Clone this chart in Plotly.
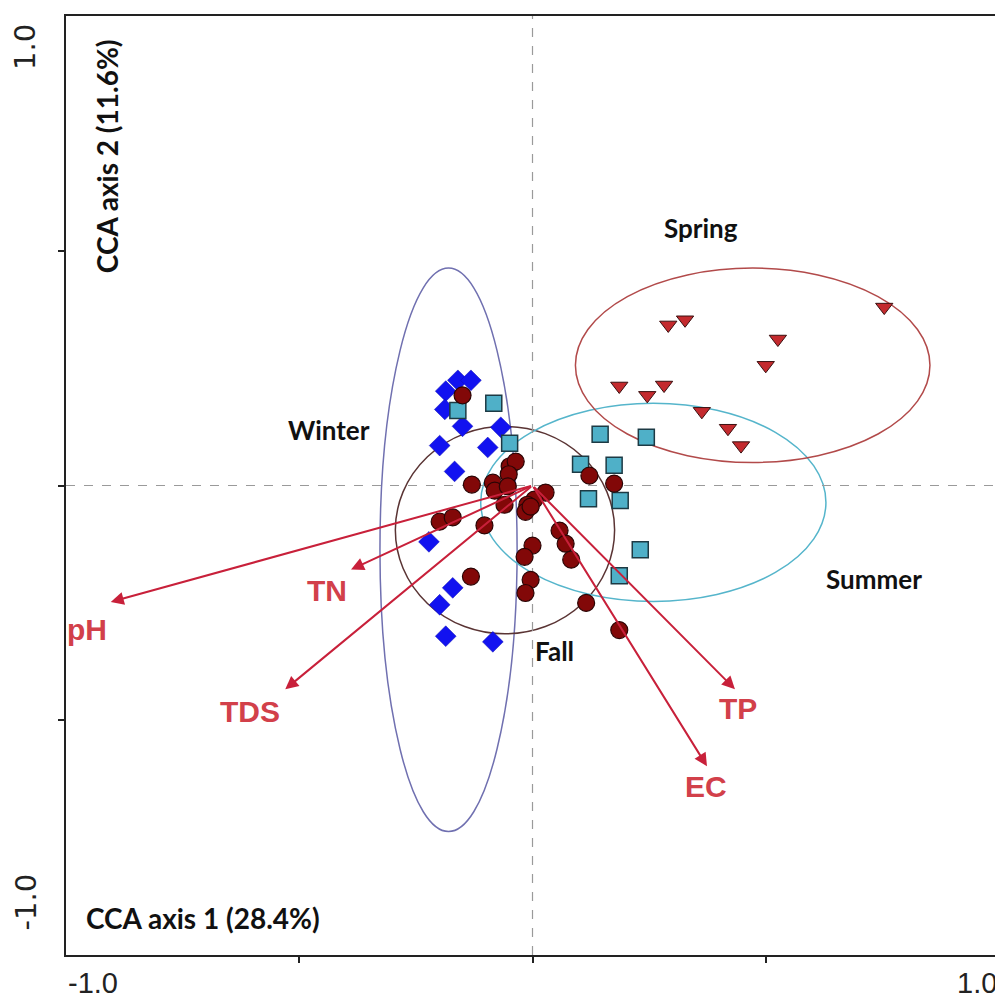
import plotly.graph_objects as go

# ---- data (CCA site scores by season) ----
winter_x = [-0.160, -0.132, -0.186, -0.188, -0.150, -0.068, -0.199, -0.096, -0.167, -0.222, -0.171, -0.199, -0.186, -0.085]
winter_y = [0.224, 0.224, 0.201, 0.162, 0.126, 0.124, 0.085, 0.081, 0.030, -0.120, -0.218, -0.254, -0.321, -0.333]

summer_x = [-0.160, -0.083, -0.049, 0.145, 0.244, 0.103, 0.175, 0.120, 0.188, 0.231, 0.186]
summer_y = [0.160, 0.175, 0.090, 0.109, 0.103, 0.045, 0.043, -0.028, -0.032, -0.137, -0.192]

spring_x = [0.291, 0.327, 0.526, 0.500, 0.754, 0.186, 0.246, 0.282, 0.363, 0.419, 0.447]
spring_y = [0.342, 0.353, 0.312, 0.256, 0.380, 0.212, 0.192, 0.214, 0.158, 0.122, 0.085]

fall_x = [-0.150, -0.049, -0.036, -0.051, -0.130, -0.085, -0.081, -0.053, -0.060, 0.028, 0.004, -0.011, -0.015,
          -0.004, -0.199, -0.171, -0.103, 0.058, 0.071, 0.083, 0.000, -0.017, -0.004, -0.015, -0.132, 0.115,
          0.186, 0.122, 0.175]
fall_y = [0.192, 0.041, 0.051, 0.024, 0.002, 0.006, -0.011, -0.002, -0.041, -0.015, -0.030, -0.041, -0.056,
          -0.045, -0.077, -0.068, -0.085, -0.096, -0.124, -0.158, -0.128, -0.152, -0.201, -0.229, -0.194, -0.250,
          -0.308, 0.021, 0.004]

# environmental vectors
env_names = ["pH", "TN", "TDS", "TP", "EC"]
env_x = [-0.904, -0.389, -0.530, 0.434, 0.374]
env_y = [-0.248, -0.179, -0.434, -0.434, -0.598]
env_label_x = [-0.955, -0.440, -0.605, 0.440, 0.372]
env_label_y = [-0.306, -0.224, -0.481, -0.476, -0.641]

# season ellipses (centre, semi-axes)
season_names = ["Winter", "Fall", "Summer", "Spring"]
ell_cx = [-0.180, -0.059, 0.259, 0.472]
ell_cy = [-0.137, -0.095, -0.036, 0.256]
ell_rx = [0.147, 0.235, 0.370, 0.380]
ell_ry = [0.600, 0.221, 0.211, 0.207]
ell_colors = ["#7070b0", "#5a3434", "#55b5cb", "#b24a4a"]
season_label_x = [-0.436, 0.047, 0.731, 0.361]
season_label_y = [0.118, -0.353, -0.199, 0.549]

# axis info
axis1_title = "CCA axis 1 (28.4%)"
axis2_title = "CCA axis 2 (11.6%)"
tick_vals = [-0.5, 0.0, 0.5]

fig = go.Figure()

# ellipses
for i, name in enumerate(season_names):
    fig.add_shape(type="circle", xref="x", yref="y",
                  x0=ell_cx[i] - ell_rx[i], x1=ell_cx[i] + ell_rx[i],
                  y0=ell_cy[i] - ell_ry[i], y1=ell_cy[i] + ell_ry[i],
                  line=dict(color=ell_colors[i], width=1.5), layer="below")

# dashed zero lines
fig.add_shape(type="line", xref="x", yref="y", x0=0, x1=0, y0=-1, y1=1,
              line=dict(color="#9a9a9a", width=1.2, dash="dash"), layer="below")
fig.add_shape(type="line", xref="x", yref="y", x0=-1, x1=1, y0=0, y1=0,
              line=dict(color="#9a9a9a", width=1.2, dash="dash"), layer="below")

fig.add_trace(go.Scatter(x=winter_x, y=winter_y, mode="markers", name="Winter",
                         marker=dict(symbol="diamond", size=16, color="#1212f0",
                                     line=dict(color="#0c0cb0", width=0.5))))
fig.add_trace(go.Scatter(x=summer_x, y=summer_y, mode="markers", name="Summer",
                         marker=dict(symbol="square", size=16, color="#4fb0c8",
                                     line=dict(color="#1d3a44", width=1.5))))
fig.add_trace(go.Scatter(x=spring_x, y=spring_y, mode="markers", name="Spring",
                         marker=dict(symbol="triangle-down", size=15, color="#c42a2e",
                                     line=dict(color="#3a1010", width=1))))
fig.add_trace(go.Scatter(x=fall_x, y=fall_y, mode="markers", name="Fall",
                         marker=dict(symbol="circle", size=17, color="#820808",
                                     line=dict(color="#2a0505", width=1.2))))

# arrows
for i, name in enumerate(env_names):
    fig.add_annotation(x=env_x[i], y=env_y[i], ax=0, ay=0, xref="x", yref="y",
                       axref="x", ayref="y", text="", showarrow=True,
                       arrowhead=2, arrowsize=1.3, arrowwidth=2, arrowcolor="#c8203a")
    fig.add_annotation(x=env_label_x[i], y=env_label_y[i], xref="x", yref="y",
                       text="<b>%s</b>" % name, showarrow=False,
                       font=dict(family="Liberation Sans, Arial", size=30, color="#d2404a"))

# season labels
for i, name in enumerate(season_names):
    fig.add_annotation(x=season_label_x[i], y=season_label_y[i], xref="x", yref="y",
                       text="<b>%s</b>" % name, showarrow=False,
                       font=dict(family="Lato, Open Sans", size=26, color="#111111"))

# axis titles inside plot
fig.add_annotation(x=-0.962, y=-0.921, xref="x", yref="y", xanchor="left", yanchor="middle",
                   text="<b>%s</b>" % axis1_title, showarrow=False,
                   font=dict(family="Lato, Open Sans", size=28, color="#111111"))
fig.add_annotation(x=-0.912, y=0.955, xref="x", yref="y", xanchor="center", yanchor="top",
                   text="<b>%s</b>" % axis2_title, showarrow=False, textangle=-90,
                   font=dict(family="Lato, Open Sans", size=28, color="#111111"))

# end tick labels
xlab_font = dict(family="Liberation Sans, Arial", size=29, color="#222222")
ylab_font = dict(family="DejaVu Sans", size=29, color="#222222")
fig.add_annotation(x=-1.0, y=0, xref="x", yref="paper", xanchor="left", yanchor="top",
                   yshift=-10, text="-1.0", showarrow=False, font=xlab_font)
fig.add_annotation(x=1.0, y=0, xref="x", yref="paper", xanchor="right", yanchor="top",
                   yshift=-10, text="1.0", showarrow=False, font=xlab_font)
fig.add_annotation(x=0, y=1.0, xref="paper", yref="y", xanchor="right", yanchor="top",
                   xshift=-22, yshift=-6, text="1.0", showarrow=False, textangle=-90, font=ylab_font)
fig.add_annotation(x=0, y=-1.0, xref="paper", yref="y", xanchor="right", yanchor="bottom",
                   xshift=-22, yshift=22, text="-1.0", showarrow=False, textangle=-90, font=ylab_font)

axis_common = dict(range=[-1, 1], showgrid=False, zeroline=False, showline=True,
                   linecolor="#222222", linewidth=2, mirror=True, ticks="outside",
                   ticklen=6, tickwidth=1.5, tickcolor="#222222", tickvals=tick_vals,
                   showticklabels=False)

fig.update_layout(
    width=995, height=998,
    margin=dict(l=58, r=2, t=8, b=51),
    paper_bgcolor="white", plot_bgcolor="white",
    showlegend=False,
    xaxis=axis_common,
    yaxis=axis_common,
)

fig.write_html("out.html")
